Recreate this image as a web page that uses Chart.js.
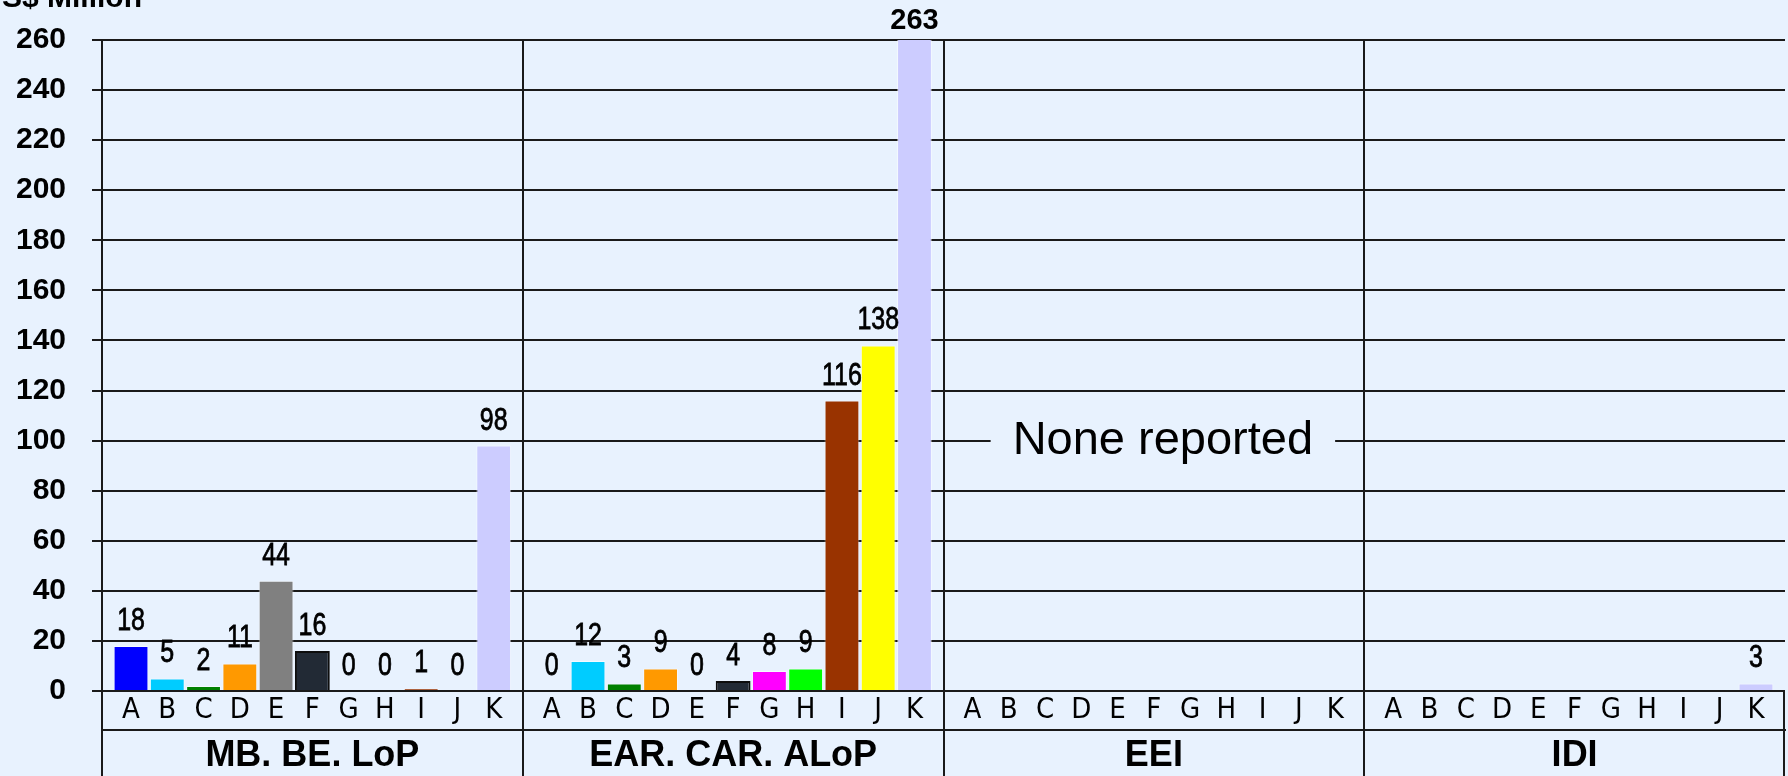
<!DOCTYPE html>
<html>
<head>
<meta charset="utf-8">
<script src="https://cdn.jsdelivr.net/npm/chart.js@4/dist/chart.umd.min.js"></script>
<style>
  html, body { margin: 0; padding: 0; background: #e8f2fe; }
  canvas { display: block; }
</style>
</head>
<body>
<canvas id="myChart" width="1788" height="776"></canvas>
<script>
const groups = ['MB. BE. LoP', 'EAR. CAR. ALoP', 'EEI', 'IDI'];
const categories = ['A', 'B', 'C', 'D', 'E', 'F', 'G', 'H', 'I', 'J', 'K'];

// US$ Million per category, one array per group (null = nothing reported)
const mbBeLop   = [18, 5, 2, 11, 44, 16, 0, 0, 1, 0, 98];
const earCarAlop = [0, 12, 3, 9, 0, 4, 8, 9, 116, 138, 263];
const eei       = [null, null, null, null, null, null, null, null, null, null, null];
const idi       = [null, null, null, null, null, null, null, null, null, null, 3];

const yMin = 0, yMax = 260, yStep = 20;
const yTitle = 'US$ Million';
const noneText = 'None reported';

const barColors = [
    '#0000ff', '#00ccff', '#008000', '#ff9900', '#808080',
    '#222a35', '#ff00ff', '#00ff00', '#993300', '#ffff00', '#ccccff'
];

const BG = '#e8f2fe';
const LINE = '#1a1a1a';
const CONDENSED = "'DejaVu Sans Condensed', 'DejaVu Sans', sans-serif";
const ARIAL = "Arial, 'Liberation Sans', sans-serif";

// each group gets a panel on the linear x axis, categories sit one unit apart
const PANEL = 11.6;
const PAD = 0.3;

const seriesByGroup = [mbBeLop, earCarAlop, eei, idi];
const points = [];
seriesByGroup.forEach((values, g) => {
	values.forEach((v, i) => {
		points.push({ x: g * PANEL + PAD + i + 0.5, y: v });
	});
});

const backgroundPlugin = {
	id: 'bg',
	beforeDraw(chart) {
		const ctx = chart.ctx;
		ctx.save();
		ctx.fillStyle = BG;
		ctx.fillRect(0, 0, chart.width, chart.height);
		ctx.restore();
	}
};

// narrow text: Arial squeezed sideways, like Arial Narrow
function narrowText(ctx, text, x, y) {
	ctx.save();
	ctx.translate(x, y);
	ctx.scale(0.78, 1);
	ctx.fillText(text, 0, 0);
	ctx.lineWidth = 0.8;
	ctx.strokeStyle = '#000';
	ctx.strokeText(text, 0, 0);
	ctx.restore();
}

// value labels above bars
const labelPlugin = {
	id: 'barLabels',
	afterDatasetsDraw(chart) {
		const ctx = chart.ctx;
		const meta = chart.getDatasetMeta(0);
		const top = chart.chartArea.top;
		const max = chart.scales.y.max;
		ctx.save();
		ctx.textAlign = 'center';
		ctx.textBaseline = 'alphabetic';
		ctx.fillStyle = '#000';
		meta.data.forEach((bar, i) => {
			const v = points[i].y;
			if (v === null) return;
			if (v > max) {
				ctx.font = 'bold 29px ' + ARIAL;
				ctx.fillText(String(v), bar.x, top - 11);
			} else {
				ctx.font = '32px ' + ARIAL;
				narrowText(ctx, String(v), bar.x, bar.y - 16);
			}
		});

		// "None reported" note over the empty EEI panel
		const xs = chart.scales.x;
		const ys = chart.scales.y;
		const cx = xs.getPixelForValue(2.5 * PANEL) + 9;
		const cy = ys.getPixelForValue(100);
		ctx.font = '47px ' + ARIAL;
		const w = ctx.measureText(noneText).width;
		ctx.fillStyle = BG;
		ctx.fillRect(cx - w / 2 - 22, cy - 30, w + 44, 60);
		ctx.fillStyle = '#000';
		ctx.textBaseline = 'middle';
		ctx.fillText(noneText, cx, cy);
		ctx.restore();
	}
};

// group separators down to the bottom edge, and the axis title
const framePlugin = {
	id: 'frame',
	afterDraw(chart) {
		const ctx = chart.ctx;
		const area = chart.chartArea;
		const xs = chart.scales.x;
		ctx.save();
		ctx.strokeStyle = LINE;
		ctx.lineWidth = 2;
		for (let g = 0; g <= groups.length; g++) {
			const x = Math.round(xs.getPixelForValue(g * PANEL)) + (g === groups.length ? -1 : 0);
			ctx.beginPath();
			ctx.moveTo(x, g < groups.length ? area.top : area.bottom);
			ctx.lineTo(x, chart.height);
			ctx.stroke();
		}
		ctx.fillStyle = '#000';
		ctx.font = 'bold 30px ' + ARIAL;
		ctx.textAlign = 'right';
		ctx.textBaseline = 'alphabetic';
		ctx.fillText(yTitle, 142, 7);
		ctx.restore();
	}
};

function fixHeight(h) {
	return axis => {
		axis.height = h;
		axis.paddingLeft = 0;
		axis.paddingRight = 0;
	};
}

window.onload = () => {
	const ctx = document.getElementById('myChart').getContext('2d');
	new Chart(ctx, {
		type: 'bar',
		data: {
			datasets: [{
				data: points,
				backgroundColor: c => barColors[c.dataIndex % categories.length],
				borderColor: c => (c.dataIndex % categories.length === 5 ? '#0d0d0d' : 'rgba(255,255,255,0.5)'),
				borderWidth: c => (c.dataIndex % categories.length === 5 ? 2 : 1),
				borderSkipped: 'bottom',
				barPercentage: 0.96,
				categoryPercentage: 1
			}]
		},
		options: {
			responsive: false,
			devicePixelRatio: 1,
			animation: false,
			layout: { padding: { top: 40, right: 3, bottom: 0, left: 0 } },
			plugins: {
				legend: { display: false },
				tooltip: { enabled: false }
			},
			scales: {
				x: {
					type: 'linear',
					position: 'bottom',
					weight: 0,
					offset: false,
					min: 0,
					max: groups.length * PANEL,
					grid: { display: false, drawTicks: false },
					border: { display: false },
					afterBuildTicks: axis => {
						axis.ticks = points.map(p => ({ value: p.x }));
					},
					afterFit: fixHeight(39),
					ticks: {
						autoSkip: false,
						maxRotation: 0,
						padding: 2,
						color: '#000',
						font: { family: CONDENSED, size: 29 },
						callback: (value, index) => categories[index % categories.length]
					}
				},
				x2: {
					type: 'category',
					position: 'bottom',
					weight: 1,
					labels: groups,
					offset: true,
					grid: { display: false, drawTicks: false },
					border: { display: true, color: LINE, width: 2 },
					afterFit: fixHeight(46),
					ticks: {
						padding: 4,
						maxRotation: 0,
						color: '#000',
						font: { family: ARIAL, size: 36, weight: 'bold' }
					}
				},
				y: {
					min: yMin,
					max: yMax,
					grid: { color: LINE, lineWidth: 2, tickLength: 10 },
					border: { display: true, color: LINE, width: 2 },
					afterFit: axis => {
						axis.width = 102;
						axis.paddingTop = 0;
						axis.paddingBottom = 0;
					},
					ticks: {
						stepSize: yStep,
						padding: 26,
						color: '#000',
						font: { family: ARIAL, size: 30, weight: 'bold' }
					}
				}
			}
		},
		plugins: [backgroundPlugin, labelPlugin, framePlugin]
	});
};
</script>
</body>
</html>
